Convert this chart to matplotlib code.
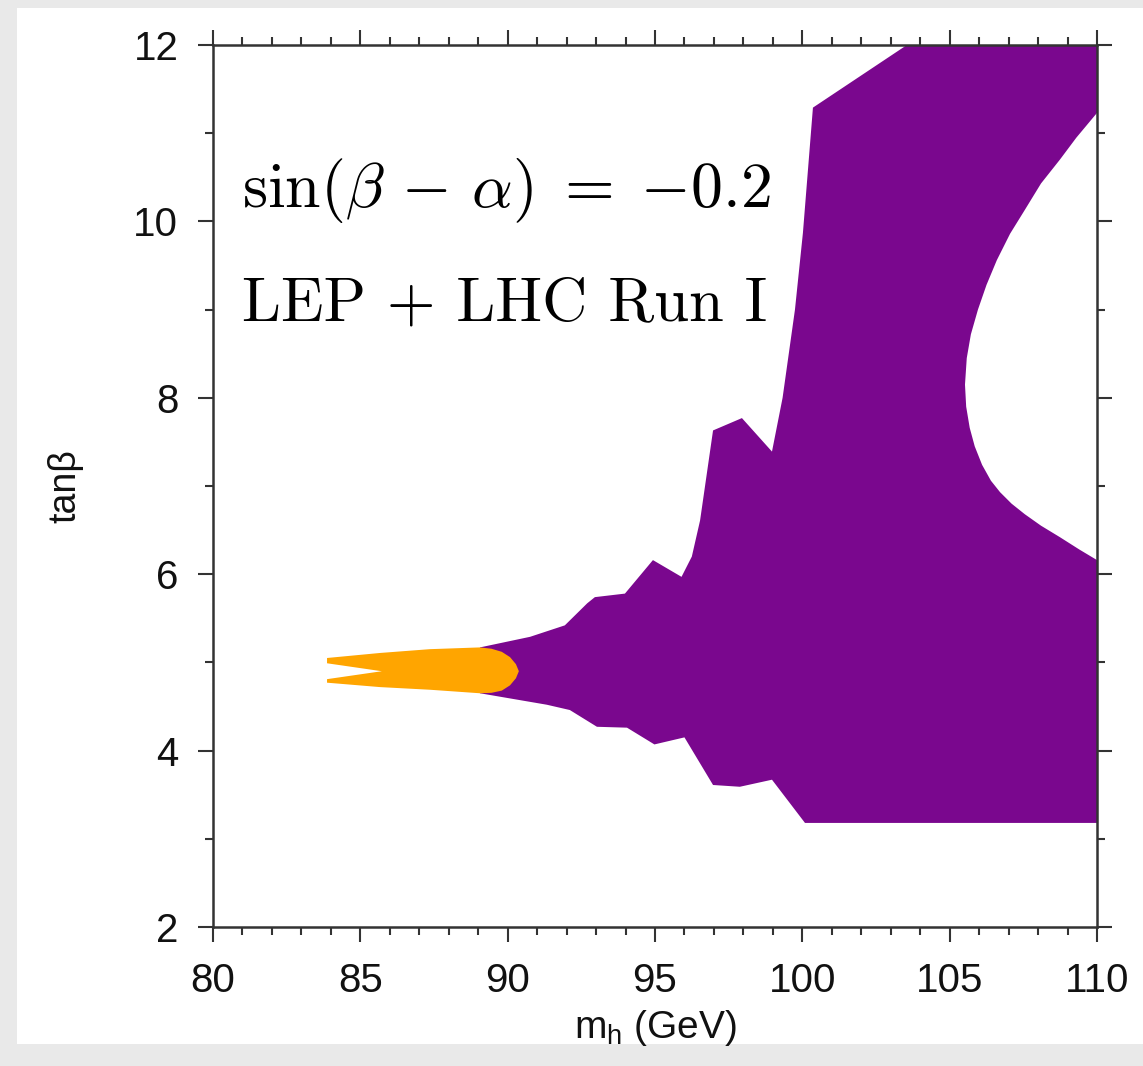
"""
tanβ vs m_h allowed region, sin(β-α) = -0.2, LEP + LHC Run I
"""
import matplotlib
matplotlib.use('Agg')
import matplotlib.pyplot as plt
from matplotlib.patches import Rectangle
from matplotlib.ticker import MultipleLocator

plt.rcParams['font.family'] = ['Liberation Sans', 'DejaVu Sans']
plt.rcParams['mathtext.fontset'] = 'custom'
plt.rcParams['mathtext.rm'] = 'Liberation Sans'
plt.rcParams['mathtext.it'] = 'Liberation Sans:italic'

# purple region: upper edge, right edge with the white hole, lower edge
upper_x = [89.06, 90.76, 91.94, 92.70, 92.96, 93.98, 94.93, 95.90, 96.25, 96.53, 96.97,
           97.95, 98.97, 99.33, 99.75, 100.02, 100.36, 103.55, 110.0]
upper_y = [5.17, 5.29, 5.42, 5.67, 5.74, 5.78, 6.16, 5.97, 6.20, 6.61, 7.63,
           7.77, 7.39, 8.00, 9.00, 9.87, 11.29, 12.0, 12.0]
hole_x = [110.0, 109.30, 108.74, 108.10, 107.55, 107.05, 106.60, 106.25, 105.96, 105.72,
          105.58, 105.52, 105.56, 105.68, 105.85, 106.10, 106.40, 106.71, 107.10, 107.55,
          108.10, 108.74, 109.40, 110.0]
hole_y = [11.23, 10.95, 10.70, 10.43, 10.13, 9.86, 9.56, 9.28, 9.00, 8.72,
          8.45, 8.15, 7.90, 7.66, 7.45, 7.24, 7.06, 6.93, 6.80, 6.68,
          6.55, 6.42, 6.28, 6.16]
lower_x = [110.0, 100.09, 98.97, 97.88, 96.97, 96.00, 94.98, 94.05, 93.03, 92.11, 91.33, 89.06]
lower_y = [3.18, 3.18, 3.67, 3.59, 3.61, 4.15, 4.07, 4.26, 4.27, 4.46, 4.52, 4.65]

# orange region (with the notch on the left)
orange_x = [83.87, 85.67, 87.36, 89.06, 89.45, 89.80, 90.08, 90.28, 90.38, 90.28, 90.08,
            89.80, 89.45, 89.06, 87.36, 85.67, 83.87, 83.87, 85.73, 83.87]
orange_y = [5.05, 5.107, 5.15, 5.17, 5.155, 5.12, 5.06, 4.98, 4.90, 4.82, 4.74,
            4.68, 4.655, 4.65, 4.69, 4.72, 4.77, 4.81, 4.90, 4.99]

x_ticks = [80, 85, 90, 95, 100, 105, 110]
y_ticks = [2, 4, 6, 8, 10, 12]

fig = plt.figure(figsize=(11.43, 10.66), dpi=100, facecolor='#e9e9e9')
# white card of the screenshot
fig.patches.append(Rectangle((17 / 1143, 22 / 1066), 1 - 17 / 1143, 1 - 30 / 1066,
                             transform=fig.transFigure, facecolor='white',
                             edgecolor='none', zorder=-1))

ax = fig.add_axes([213 / 1143, 139 / 1066, 884 / 1143, 882 / 1066])
ax.set_facecolor('white')

px = upper_x + hole_x + lower_x
py = upper_y + hole_y + lower_y
ax.fill(px, py, color='#7a078e', lw=0, zorder=2)
ax.fill(orange_x, orange_y, color='#ffa500', lw=0, zorder=3)

ax.set_xlim(80, 110)
ax.set_ylim(2, 12)
ax.set_xticks(x_ticks)
ax.set_yticks(y_ticks)
ax.xaxis.set_minor_locator(MultipleLocator(1))
ax.yaxis.set_minor_locator(MultipleLocator(1))
ax.tick_params(which='both', direction='out', top=True, right=True,
               labelsize=29, colors='#333333', labelcolor='#111111', width=1.5)
ax.tick_params(which='major', length=11, pad=14)
ax.tick_params(which='minor', length=6)
for s in ax.spines.values():
    s.set_linewidth(1.8)
    s.set_color('#333333')

ax.set_xlabel(r'm$_\mathrm{h}$ (GeV)', fontsize=28, labelpad=6, color='#111111')
ax.set_ylabel('tanβ', fontsize=27, labelpad=36, color='#111111')

ax.text(81.0, 10.16, r'$\sin(\beta\,-\,\alpha)\;=\;{-0.2}$', fontsize=46,
        math_fontfamily='cm', color='black', zorder=5)
ax.text(81.0, 8.88, 'LEP + LHC Run I', fontsize=45, family='cmr10',
        color='black', zorder=5)

fig.savefig('out.png', dpi=100, facecolor=fig.get_facecolor())
